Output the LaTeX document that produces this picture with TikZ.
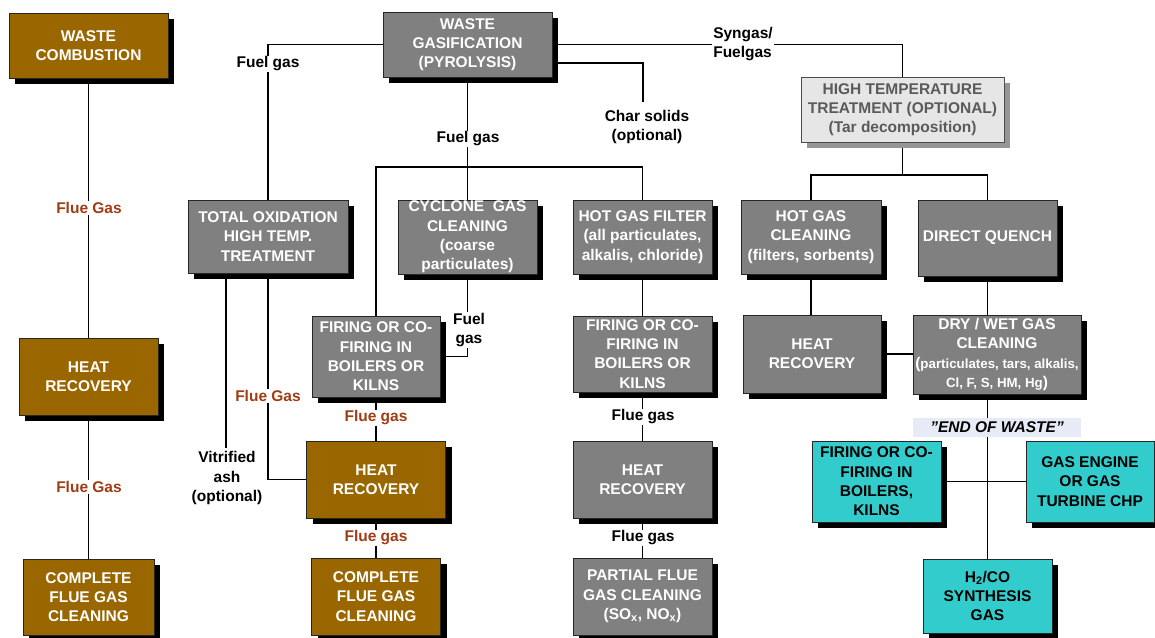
\documentclass[tikz,border=0pt]{standalone}
\usepackage{fontspec}
\setmainfont{Liberation Sans}
\definecolor{brownc}{RGB}{153,102,0}
\definecolor{flue}{RGB}{160,60,20}
\definecolor{grayc}{RGB}{128,128,128}
\definecolor{cyanc}{RGB}{51,204,204}
\definecolor{eowbg}{RGB}{230,235,245}
\definecolor{httfill}{RGB}{230,230,230}
\definecolor{httext}{RGB}{90,90,90}
\definecolor{httshadow}{RGB}{150,150,150}
\newcommand\bxf{\fontsize{15.5}{19.3}\selectfont\bfseries}
\newcommand\smf{\fontsize{13.3}{19.3}\selectfont}
\pgfdeclarelayer{bg}
\pgfsetlayers{bg,main}
\tikzset{
  box/.style 2 args={draw=black!85, line width=0.8pt, minimum width=#1pt, minimum height=#2pt,
    inner sep=0pt, align=center, font=\bxf, text=white},
  shd/.style={preaction={fill=#1, draw=none, transform canvas={xshift=6pt, yshift=-6pt}}},
  shd/.default=black,
  brownbox/.style={fill=brownc, shd},
  graybox/.style={fill=grayc, shd},
  cyanbox/.style={fill=cyanc, shd, text=black},
  conn/.style={draw=black, line width=1.3pt},
  lbl/.style={font=\bxf, fill=white, inner sep=1pt, align=center, text=black},
}
\begin{document}
\begin{tikzpicture}[x=1pt,y=-1pt]
\useasboundingbox (0,0) rectangle (1155,637);

% left column
\node[box={159}{65}, brownbox] (wc) at (88.5,45.5) {WASTE\\COMBUSTION};
\node[box={139}{77}, brownbox] (hr1) at (88.5,376.5) {HEAT\\RECOVERY};
\node[box={131}{76}, brownbox] (cfg1) at (88.5,597) {COMPLETE\\FLUE GAS\\CLEANING};

% gasification
\node[box={169}{65}, graybox] (wg) at (467.5,44.5) {WASTE\\GASIFICATION\\(PYROLYSIS)};
\node[box={160}{73}, graybox] (tox) at (268,236.5) {TOTAL OXIDATION\\HIGH TEMP.\\TREATMENT};
\node[box={139}{74}, graybox] (cyc) at (467.5,237) {CYCLONE\ \ GAS\\CLEANING\\(coarse\\particulates)};
\node[box={139}{74}, graybox] (hgf) at (642.5,237) {HOT GAS FILTER\\(all particulates,\\alkalis, chloride)};
\node[box={203}{65}, fill=httfill, text=httext, draw=black!70, shd=httshadow] (htt) at (902.5,109.5) {HIGH TEMPERATURE\\TREATMENT (OPTIONAL)\\(Tar decomposition)};
\node[box={140}{74}, graybox] (hgc) at (811,237) {HOT GAS\\CLEANING\\(filters, sorbents)};
\node[box={139}{76}, graybox] (dq) at (987.5,238) {DIRECT QUENCH};

% middle columns
\node[box={128}{81}, graybox] (fir1) at (376,356.5) {FIRING OR CO-\\FIRING IN\\BOILERS OR\\KILNS};
\node[box={139}{77}, brownbox] (hr2) at (376,479.5) {HEAT\\RECOVERY};
\node[box={129}{77}, brownbox] (cfg2) at (376,596.5) {COMPLETE\\FLUE GAS\\CLEANING};
\node[box={139}{76}, graybox] (fir2) at (642.5,354) {FIRING OR CO-\\FIRING IN\\BOILERS OR\\KILNS};
\node[box={139}{77}, graybox] (hr3) at (642.5,479.5) {HEAT\\RECOVERY};
\node[box={139}{77}, graybox] (pfgc) at (642.5,596.5) {PARTIAL FLUE\\GAS CLEANING\\(SO\textsubscript{x}, NO\textsubscript{x})};

% right columns
\node[box={138}{78}, graybox] (hr4) at (812,354) {HEAT\\RECOVERY};
\node[box={168}{79}, graybox] (dw) at (997,354.5) {DRY / WET GAS\\CLEANING\\(\smf particulates, tars, alkalis,\\{\smf Cl, F, S, HM, Hg})};
\node[box={129}{81}, cyanbox] (cf) at (876.5,481.5) {FIRING OR CO-\\FIRING IN\\BOILERS,\\KILNS};
\node[box={128}{81}, cyanbox] (ge) at (1090,481.5) {GAS ENGINE\\OR GAS\\TURBINE CHP};
\node[box={129}{74}, cyanbox] (h2) at (987.5,596) {H\textsubscript{2}/CO\\SYNTHESIS\\GAS};

% helper coordinates
\coordinate (j1) at (467.5,167);
\coordinate (charturn) at (643,63);
\coordinate (charend) at (643,102);
\coordinate (j2) at (902.5,175);
\coordinate (vitend) at (226,448);

\begin{pgfonlayer}{bg}
\fill[white] (0,0) rectangle (1155,637);
\draw[conn] (wc.south) -- (hr1.north);
\draw[conn] (hr1.south) -- (cfg1.north);
\draw[conn] (wg.west) -| (tox.north);
\draw[conn] (wg.south) -- (j1);
\draw[conn] (fir1.north) |- (hgf.north |- j1) -- (hgf.north);
\draw[conn] (j1) -- (cyc.north);
\draw[conn] (wg.east |- charturn) -- (charturn) -- (charend);
\draw[conn] (wg.east) -| (htt.north);
\draw[conn] (htt.south) -- (j2);
\draw[conn] (hgc.north) |- (dq.north |- j2) -- (dq.north);
\draw[conn] (hgc.south) -- (hgc.south |- hr4.north);
\draw[conn] (dq.south) -- (dq.south |- dw.north);
\draw[conn] (hr4.east) -- (hr4.east -| dw.west);
\draw[conn] (dq.south |- dw.south) -- (h2.north);
\draw[conn] (cf.east) -- (ge.west);
\draw[conn] (tox.south -| vitend) -- (vitend);
\draw[conn] (tox.south) |- (hr2.west);
\draw[conn] (cyc.south) |- (fir1.east);
\draw[conn] (fir1.south) -- (hr2.north);
\draw[conn] (hr2.south) -- (cfg2.north);
\draw[conn] (hgf.south) -- (fir2.north);
\draw[conn] (fir2.south) -- (hr3.north);
\draw[conn] (hr3.south) -- (pfgc.north);
\end{pgfonlayer}

% labels
\node[lbl, text=flue] (lf1) at (89,208) {Flue Gas};
\node[lbl, text=flue] (lf2) at (89,487) {Flue Gas};
\node[lbl] (lfuel1) at (268,64) {Fuel gas};
\node[lbl] (lfuel2) at (468,139) {Fuel gas};
\node[lbl] (lchar) at (647,127) {Char solids\\(optional)};
\node[lbl, align=left] (lsyn) at (743,44) {Syngas/\\Fuelgas};
\node[lbl] (lfuel3) at (469,330) {Fuel\\gas};
\node[lbl] (lvit) at (227,478) {Vitrified\\ash\\(optional)};
\node[lbl, text=flue] (lf3) at (268,396) {Flue Gas};
\node[lbl, text=flue] (lf4) at (376,418) {Flue gas};
\node[lbl, text=flue] (lf5) at (376,538) {Flue gas};
\node[lbl] (lf6) at (643,417) {Flue gas};
\node[lbl] (lf7) at (643,538) {Flue gas};
\node[fill=eowbg, minimum width=168pt, minimum height=19pt, inner sep=0pt, font=\bxf\itshape] (eow) at (997,427.5) {”END OF WASTE”};
\end{tikzpicture}
\end{document}
